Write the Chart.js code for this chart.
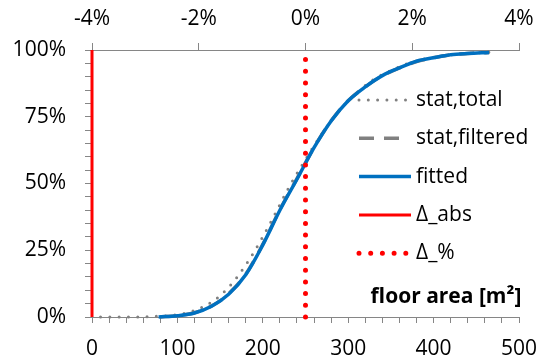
<!DOCTYPE html>
<html>
<head>
<meta charset="utf-8">
<script src="https://cdn.jsdelivr.net/npm/chart.js@4.4.1/dist/chart.umd.min.js"></script>
<style>
    html, body { margin: 0; padding: 0; background: #fff; }
    #wrap { width: 542px; height: 363px; }
</style>
</head>
<body>
<div id="wrap"><canvas id="cdfChart" width="542" height="363"></canvas></div>
<script>
// Cumulative distribution of floor area

// stat,total (gray dotted)
const statTotalX = [10, 30, 50, 70, 90, 110, 130, 150, 170, 190, 210, 230, 250, 270, 290, 310, 330, 350, 370, 390, 410, 430, 450, 465];
const statTotalY = [0, 0, 0, 0.002, 0.005, 0.015, 0.038, 0.08, 0.15, 0.245, 0.359, 0.482, 0.59, 0.69, 0.775, 0.84, 0.89, 0.923, 0.95, 0.967, 0.978, 0.985, 0.989, 0.992];

// stat,filtered (gray dashed, almost hidden under the fitted curve)
const statFilteredX = [80, 100, 120, 140, 160, 180, 200, 220, 240, 260, 280, 300, 320, 340, 360, 380, 400, 420, 440, 465];
const statFilteredY = [0, 0.005, 0.016, 0.041, 0.087, 0.16, 0.272, 0.402, 0.518, 0.635, 0.735, 0.81, 0.862, 0.904, 0.933, 0.957, 0.971, 0.982, 0.987, 0.991];

// fitted (blue)
const fittedX = [78, 100, 120, 140, 160, 180, 200, 220, 240, 260, 280, 300, 320, 340, 360, 380, 400, 420, 440, 465];
const fittedY = [0, 0.005, 0.015, 0.04, 0.085, 0.158, 0.27, 0.40, 0.516, 0.634, 0.734, 0.81, 0.862, 0.904, 0.933, 0.958, 0.971, 0.982, 0.987, 0.991];

// vertical markers
const absLineX = [0, 0];          // bottom axis [m²]
const absLineY = [0, 1];
const pctLineX = [0, 0];          // top axis [%]
const pctLineY = [0, 1];

// axis ranges / tick steps
const areaTicks = [0, 500, 20];       // min, max, step (labels every 100)
const pctTicks = [-0.04, 0.04, 0.02];
const shareTicks = [0, 1, 0.05];      // labels every 25%

const legendLabels = ['stat,total', 'stat,filtered', 'fitted', 'Δ_abs', 'Δ_%'];

const toPoints = (xs, ys) => xs.map((x, i) => ({ x: x, y: ys[i] }));

const axisGray = '#868686';
Chart.defaults.font.family = '"Open Sans", "Noto Sans", sans-serif';
Chart.defaults.font.size = 21;
Chart.defaults.color = '#000';

// keep the plot box where the reference has it
const fixX = (h) => (scale) => {
    scale.height = h;
    scale.paddingLeft = 0;
    scale.paddingRight = 0;
};

// legend drawn inside the plot, Excel style
const insideLegend = {
    id: 'insideLegend',
    afterDraw(chart) {
        const ctx = chart.ctx;
        ctx.save();
        ctx.font = '21px "Open Sans", "Noto Sans", sans-serif';
        ctx.textBaseline = 'middle';
        ctx.fillStyle = '#000';
        chart.data.datasets.forEach((ds, row) => {
            const y = 100 + row * 38.3;
            const x1 = ds.borderDash && ds.borderDash[0] > 0 ? 401 : 411;
            ctx.beginPath();
            ctx.strokeStyle = ds.borderColor;
            ctx.lineWidth = ds.borderWidth;
            ctx.setLineDash(ds.borderDash || []);
            ctx.lineCap = ds.borderCapStyle || 'butt';
            ctx.moveTo(359, y);
            ctx.lineTo(x1, y);
            ctx.stroke();
            ctx.setLineDash([]);
            ctx.fillText(ds.label, 416, y);
        });
        // axis caption inside the plot area
        ctx.font = 'bold 21px "Open Sans", "Noto Sans", sans-serif';
        ctx.textAlign = 'center';
        ctx.fillText('floor area [m²]', 446, 297);
        ctx.restore();
    }
};

const ctx = document.getElementById('cdfChart').getContext('2d');
const cdfChart = new Chart(ctx, {
    type: 'line',
    data: {
        datasets: [
            {
                label: legendLabels[0],
                data: toPoints(statTotalX, statTotalY),
                borderColor: '#808080',
                borderWidth: 3,
                borderDash: [0, 9.3],
                borderCapStyle: 'round',
                cubicInterpolationMode: 'monotone',
                order: 5
            },
            {
                label: legendLabels[1],
                data: toPoints(statFilteredX, statFilteredY),
                borderColor: '#808080',
                borderWidth: 3.5,
                borderDash: [15, 10],
                cubicInterpolationMode: 'monotone',
                order: 4
            },
            {
                label: legendLabels[2],
                data: toPoints(fittedX, fittedY),
                borderColor: '#0070C0',
                borderWidth: 3.5,
                cubicInterpolationMode: 'monotone',
                order: 3
            },
            {
                label: legendLabels[3],
                data: toPoints(absLineX, absLineY),
                borderColor: '#FF0000',
                borderWidth: 3,
                order: 2
            },
            {
                label: legendLabels[4],
                data: toPoints(pctLineX, pctLineY),
                xAxisID: 'xTop',
                borderColor: '#FF0000',
                borderWidth: 5,
                borderDash: [0, 11.7],
                borderCapStyle: 'round',
                order: 1
            }
        ]
    },
    options: {
        responsive: false,
        animation: false,
        layout: { padding: { left: 0, right: 23, top: 0, bottom: 0 } },
        elements: { point: { radius: 0, hoverRadius: 0 } },
        datasets: { line: { clip: false, fill: false } },
        plugins: {
            legend: { display: false },
            tooltip: { enabled: false }
        },
        scales: {
            x: {
                type: 'linear',
                position: 'bottom',
                min: areaTicks[0],
                max: areaTicks[1],
                afterFit: fixX(46),
                border: { color: axisGray, width: 1 },
                grid: { drawOnChartArea: false, color: axisGray, tickLength: 6 },
                ticks: {
                    stepSize: areaTicks[2],
                    autoSkip: false,
                    maxRotation: 0,
                    padding: 13,
                    callback: (v) => (Math.round(v) % 100 === 0 ? String(Math.round(v)) : '')
                }
            },
            xTop: {
                type: 'linear',
                position: 'top',
                min: pctTicks[0],
                max: pctTicks[1],
                afterFit: fixX(50),
                border: { color: axisGray, width: 1 },
                grid: { drawOnChartArea: false, color: axisGray, tickLength: 7 },
                ticks: {
                    stepSize: pctTicks[2],
                    autoSkip: false,
                    maxRotation: 0,
                    padding: 11,
                    callback: (v) => Math.round(v * 100) + '%'
                }
            },
            y: {
                type: 'linear',
                position: 'left',
                min: shareTicks[0],
                max: shareTicks[1],
                afterFit: (scale) => { scale.width = 92; },
                border: { color: axisGray, width: 1 },
                grid: { drawOnChartArea: false, color: axisGray, tickLength: 7 },
                ticks: {
                    stepSize: shareTicks[2],
                    autoSkip: false,
                    padding: 19,
                    callback: (v) => {
                        const p = Math.round(v * 100);
                        return p % 25 === 0 ? p + '%' : '';
                    }
                }
            }
        }
    },
    plugins: [insideLegend]
});
</script>
</body>
</html>
